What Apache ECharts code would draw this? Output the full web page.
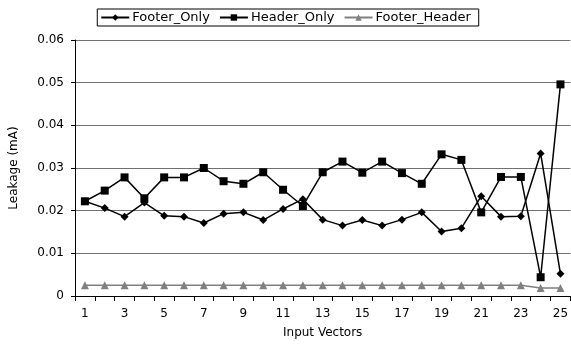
<!DOCTYPE html>
<html><head><meta charset="utf-8">
<script src="https://cdn.jsdelivr.net/npm/echarts@6/dist/echarts.min.js"></script>
<style>html,body{margin:0;padding:0;background:#fff}#c{width:571px;height:344px}</style>
</head><body><div id="c"></div>
<script>
const categories = ['1','2','3','4','5','6','7','8','9','10','11','12','13','14','15','16','17','18','19','20','21','22','23','24','25'];
const footerOnly = [0.0222,0.0206,0.0186,0.0219,0.0188,0.0186,0.0171,0.0193,0.0196,0.0178,0.0204,0.0227,0.0179,0.0165,0.0178,0.0165,0.0179,0.0196,0.0151,0.0159,0.0234,0.0186,0.0187,0.0334,0.0052];
const headerOnly = [0.0222,0.0247,0.0278,0.0229,0.0278,0.0278,0.0300,0.0269,0.0263,0.0290,0.0249,0.0211,0.0290,0.0315,0.0289,0.0315,0.0288,0.0263,0.0332,0.0319,0.0196,0.0279,0.0279,0.0044,0.0496];
const footerHeader = [0.0025,0.0025,0.0025,0.0025,0.0025,0.0025,0.0025,0.0025,0.0025,0.0025,0.0025,0.0025,0.0025,0.0025,0.0025,0.0025,0.0025,0.0025,0.0025,0.0025,0.0025,0.0025,0.0025,0.0019,0.0019];
const yTicks = [0,0.01,0.02,0.03,0.04,0.05,0.06];

const font = 'DejaVu Sans';
const chart = echarts.init(document.getElementById('c'));
chart.setOption({
  animation: false,
  textStyle: {fontFamily: font},
  grid: {left: 73, right: -2, top: 40, bottom: 46},
  legend: {
    top: 9, left: 'center',
    itemGap: 9, itemWidth: 28, itemHeight: 8,
    padding: [2, 8, 2, 3],
    borderColor: '#000', borderWidth: 1,
    textStyle: {fontFamily: font, fontSize: 13, color: '#000', padding: [0, 0, 0, -2]},
    data: ['Footer_Only','Header_Only','Footer_Header']
  },
  xAxis: {
    type: 'category', data: categories, boundaryGap: true,
    name: 'Input Vectors', nameLocation: 'middle', nameGap: 31,
    nameTextStyle: {fontFamily: font, fontSize: 12, color: '#000'},
    axisLine: {lineStyle: {color: '#000', width: 1}},
    axisTick: {show: true, interval: 0, length: 5, lineStyle: {color: '#000'}},
    axisLabel: {interval: 1, margin: 12, fontFamily: font, fontSize: 12, color: '#000'},
    splitLine: {show: false}
  },
  yAxis: {
    type: 'value', min: yTicks[0], max: yTicks[yTicks.length-1], interval: 0.01,
    name: 'Leakage (mA)', nameLocation: 'middle', nameGap: 55, nameRotate: 90,
    nameTextStyle: {fontFamily: font, fontSize: 12, color: '#000'},
    axisLine: {show: true, lineStyle: {color: '#000', width: 1}},
    axisTick: {show: true, length: 4, lineStyle: {color: '#000'}},
    axisLabel: {margin: 11, fontFamily: font, fontSize: 12, color: '#000',
      formatter: v => (v === 0 ? '0' : v.toFixed(2))},
    splitLine: {show: true, lineStyle: {color: '#707070', width: 1}}
  },
  series: [
    {name: 'Footer_Only', type: 'line', data: footerOnly, symbol: 'diamond', symbolSize: 8,
     itemStyle: {color: '#000'}, lineStyle: {color: '#000', width: 1.5}},
    {name: 'Header_Only', type: 'line', data: headerOnly, symbol: 'rect', symbolSize: 8,
     itemStyle: {color: '#000'}, lineStyle: {color: '#000', width: 1.5}},
    {name: 'Footer_Header', type: 'line', data: footerHeader, symbol: 'triangle', symbolSize: 8,
     itemStyle: {color: '#808080'}, lineStyle: {color: '#808080', width: 1.5}}
  ]
});
</script></body></html>
